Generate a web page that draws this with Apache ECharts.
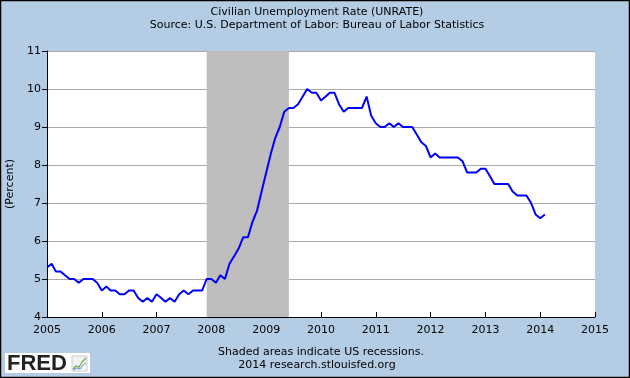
<!DOCTYPE html>
<html>
<head>
<meta charset="utf-8">
<script src="https://cdn.jsdelivr.net/npm/echarts@6/dist/echarts.min.js"></script>
<style>
html,body{margin:0;padding:0;background:#B4CDE5;}
#c{width:630px;height:378px;}
</style>
</head>
<body>
<div id="c"></div>
<script>
// Monthly civilian unemployment rate, percent
const startYear = 2005;
const u2005 = [5.3,5.4,5.2,5.2,5.1,5.0,5.0,4.9,5.0,5.0,5.0,4.9];
const u2006 = [4.7,4.8,4.7,4.7,4.6,4.6,4.7,4.7,4.5,4.4,4.5,4.4];
const u2007 = [4.6,4.5,4.4,4.5,4.4,4.6,4.7,4.6,4.7,4.7,4.7,5.0];
const u2008 = [5.0,4.9,5.1,5.0,5.4,5.6,5.8,6.1,6.1,6.5,6.8,7.3];
const u2009 = [7.8,8.3,8.7,9.0,9.4,9.5,9.5,9.6,9.8,10.0,9.9,9.9];
const u2010 = [9.7,9.8,9.9,9.9,9.6,9.4,9.5,9.5,9.5,9.5,9.8,9.3];
const u2011 = [9.1,9.0,9.0,9.1,9.0,9.1,9.0,9.0,9.0,8.8,8.6,8.5];
const u2012 = [8.2,8.3,8.2,8.2,8.2,8.2,8.2,8.1,7.8,7.8,7.8,7.9];
const u2013 = [7.9,7.7,7.5,7.5,7.5,7.5,7.3,7.2,7.2,7.2,7.0,6.7];
const u2014 = [6.6,6.7];
const yearly = [u2005,u2006,u2007,u2008,u2009,u2010,u2011,u2012,u2013,u2014];

// Recession (start month, end month)
const recessionStart = [2007, 12];
const recessionEnd = [2009, 6];

// Axis ticks
const xMinYear = 2005, xMaxYear = 2015;
const yTicks = [4,5,6,7,8,9,10,11];

const data = [];
yearly.forEach((arr, yi) => {
  arr.forEach((v, m) => {
    data.push([new Date(startYear + yi, m, 1).getTime(), v]);
  });
});

const chart = echarts.init(document.getElementById('c'), null, {renderer: 'canvas'});
const FONT = 'DejaVu Sans';
const DAY = 86400000;
chart.setOption({
  animation: false,
  backgroundColor: '#B4CDE5',
  textStyle: {fontFamily: FONT},
  grid: {
    left: 47, right: 35, top: 51, bottom: 61,
    containLabel: false, outerBoundsMode: 'none',
    show: true, backgroundColor: '#ffffff', borderWidth: 0
  },
  xAxis: {
    type: 'time',
    min: new Date(xMinYear, 0, 1).getTime(),
    max: new Date(xMaxYear, 0, 1).getTime(),
    minInterval: 365 * DAY,
    maxInterval: 366 * DAY,
    axisLine: {show: true, lineStyle: {color: '#000', width: 1}},
    axisTick: {show: true, inside: true, length: 5, lineStyle: {color: '#000'}},
    splitLine: {show: false},
    axisLabel: {
      color: '#000', fontSize: 11, fontFamily: FONT, margin: 8,
      showMinLabel: true, showMaxLabel: true, hideOverlap: false,
      formatter: v => String(new Date(v).getFullYear())
    }
  },
  yAxis: {
    type: 'value',
    min: yTicks[0], max: yTicks[yTicks.length - 1], interval: 1,
    name: '(Percent)',
    nameLocation: 'middle',
    nameGap: 28,
    nameTextStyle: {color: '#000', fontSize: 11, fontFamily: FONT},
    axisLine: {show: true, lineStyle: {color: '#000', width: 1}},
    axisTick: {show: true, inside: false, length: 5, lineStyle: {color: '#000'}},
    splitLine: {show: true, lineStyle: {color: '#AAAAAA', width: 1}},
    axisLabel: {color: '#000', fontSize: 11, fontFamily: FONT, margin: 6}
  },
  series: [{
    type: 'line',
    data: data,
    showSymbol: false,
    symbol: 'none',
    lineStyle: {color: '#0000FF', width: 2},
    z: 5,
    markArea: {
      silent: true,
      itemStyle: {color: '#BEBEBE', opacity: 1},
      data: [[
        {xAxis: new Date(recessionStart[0], recessionStart[1] - 1, 1).getTime()},
        {xAxis: new Date(recessionEnd[0], recessionEnd[1] - 1, 1).getTime()}
      ]]
    }
  }],
  graphic: [
    {type: 'text', x: 317, y: 12, style: {text: 'Civilian Unemployment Rate (UNRATE)', fill: '#000', font: '11px "DejaVu Sans"', align: 'center', verticalAlign: 'middle'}},
    {type: 'text', x: 317, y: 25, style: {text: 'Source: U.S. Department of Labor: Bureau of Labor Statistics', fill: '#000', font: '11px "DejaVu Sans"', align: 'center', verticalAlign: 'middle'}},
    {type: 'text', x: 321, y: 352, style: {text: 'Shaded areas indicate US recessions.', fill: '#000', font: '11px "DejaVu Sans"', align: 'center', verticalAlign: 'middle'}},
    {type: 'text', x: 317, y: 365, style: {text: '2014 research.stlouisfed.org', fill: '#000', font: '11px "DejaVu Sans"', align: 'center', verticalAlign: 'middle'}},
    {type: 'rect', shape: {x: 5, y: 353, width: 85, height: 20}, style: {fill: '#fff'}},
    {type: 'text', x: 7, y: 364, style: {text: 'FRED', fill: '#222', font: 'bold 22px "Liberation Sans"', align: 'left', verticalAlign: 'middle'}},
    {type: 'rect', shape: {x: 72, y: 356, width: 15, height: 15}, style: {fill: '#f2f2f2', stroke: '#ccc', lineWidth: 1}},
    {type: 'polyline', shape: {points: [[73,369],[76,366],[79,367],[82,362],[86,358]]}, style: {stroke: '#6aaa3a', lineWidth: 1.2, fill: null}},
    {type: 'polyline', shape: {points: [[73,370],[77,368],[80,369],[83,365],[86,363]]}, style: {stroke: '#5b8fd0', lineWidth: 1, fill: null}},
    {type: 'rect', shape: {x: 0.5, y: 0.5, width: 629, height: 377}, style: {fill: null, stroke: '#000', lineWidth: 1.5}, z: 100}
  ]
});
</script>
</body>
</html>
